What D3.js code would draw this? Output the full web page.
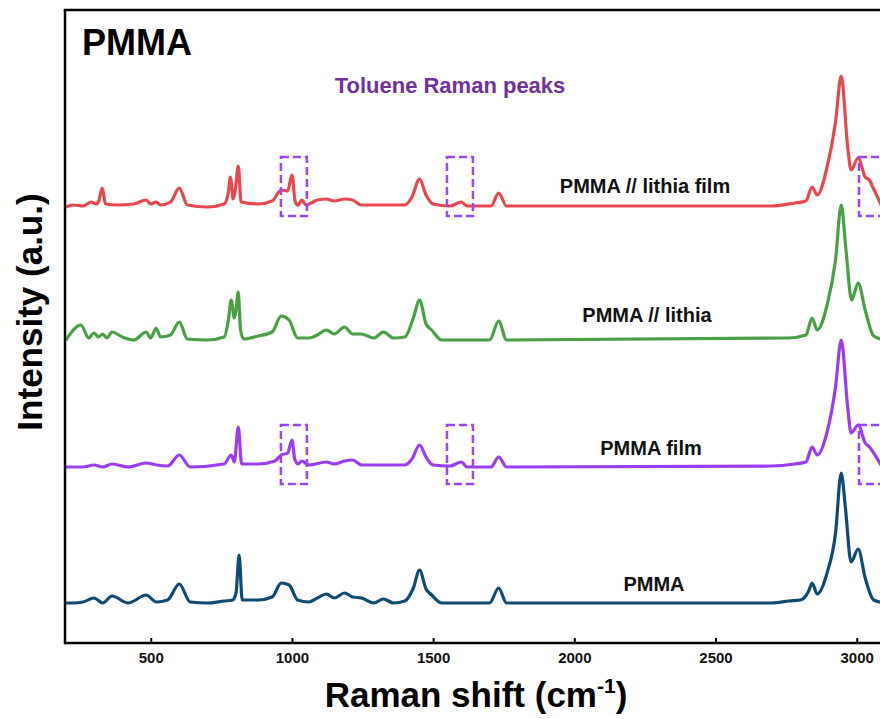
<!DOCTYPE html>
<html>
<head>
<meta charset="utf-8">
<script src="https://cdn.jsdelivr.net/npm/d3@7"></script>
<style>
  body { margin: 0; background: #fff; }
  svg { display: block; font-family: Arial, "Liberation Sans", sans-serif; }
</style>
</head>
<body>
<script>
// ---- data (Raman shift in cm-1, intensity in a.u. above each baseline)
var seriesNames = ["PMMA", "PMMA film", "PMMA // lithia", "PMMA // lithia film"];
var seriesColors = ["#0f4a70", "#9b3cf2", "#47a044", "#e8474f"];
var seriesOffsets = [40, 176, 303, 436];

var pmma = [
  [200,0],[225,0],[260,1],[299,5],[330,0],[363,7],[420,0],[484,8],[520,1],[560,3],[601,19],[640,1],
  [700,0],[760,2],[790,3],[802,10],[813,48],[824,3],[880,3],[930,6],[962,20],[990,18],[1020,3],
  [1060,1],[1090,5],[1122,9],[1150,5],[1186,10],[1215,6],[1246,5],[1290,0],[1324,4],[1360,0],
  [1400,2],[1430,15],[1452,33],[1475,14],[1495,8],[1530,0],[1700,0],[1732,15],[1760,0],[2700,0],
  [2760,2],[2800,3],[2830,12],[2842,20],[2860,9],[2895,30],[2925,70],[2945,130],[2960,95],
  [2980,41],[3005,54],[3030,25],[3060,3],[3100,0]
];
var pmmaFilm = [
  [200,0],[260,0],[299,2],[330,0],[363,3],[420,0],[484,4],[520,2],[560,1],[601,12],[640,0],
  [760,3],[785,12],[796,5],[810,40],[822,3],[880,3],[940,6],[962,12],[985,14],[1000,27],[1010,8],
  [1022,3],[1035,6],[1060,2],[1122,5],[1150,3],[1186,6],[1215,7],[1246,2],[1400,2],[1425,8],
  [1452,22],[1475,10],[1500,2],[1560,1],[1600,5],[1620,0],[1705,0],[1732,10],[1760,0],[2700,1],
  [2780,3],[2820,5],[2842,20],[2860,12],[2895,35],[2925,80],[2945,127],[2968,60],[2980,34],
  [3005,42],[3030,24],[3045,20],[3060,14],[3090,0]
];
var pmmaLithia = [
  [200,0],[253,15],[280,2],[299,7],[315,3],[330,6],[345,2],[363,8],[400,3],[440,0],[484,8],[500,2],
  [519,12],[535,3],[570,5],[601,18],[630,1],[700,0],[760,3],[775,20],[785,40],[796,22],[802,30],
  [810,48],[818,10],[830,1],[880,4],[930,8],[962,24],[990,20],[1020,2],[1060,2],[1090,5],[1122,10],
  [1150,6],[1186,13],[1215,6],[1246,6],[1290,2],[1324,8],[1360,2],[1400,3],[1430,22],[1452,40],
  [1475,16],[1495,10],[1530,0],[1700,0],[1732,19],[1760,0],[2760,2],[2820,5],[2842,22],[2860,10],
  [2895,35],[2925,80],[2945,135],[2962,90],[2982,40],[3005,57],[3030,30],[3060,4],[3100,0]
];
var pmmaLithiaFilm = [
  [200,0],[225,2],[260,1],[290,5],[306,3],[316,6],[328,19],[340,3],[380,2],[440,3],[484,7],[500,3],
  [519,5],[535,2],[570,5],[601,19],[630,2],[700,0],[760,3],[775,15],[782,30],[792,8],[800,18],
  [810,41],[820,5],[880,3],[930,6],[962,17],[985,16],[1000,32],[1012,5],[1022,2],[1035,7],[1050,2],
  [1090,7],[1122,8],[1150,6],[1186,8],[1215,7],[1246,2],[1400,2],[1425,10],[1452,28],[1475,12],
  [1500,3],[1560,1],[1600,5],[1620,1],[1705,1],[1732,14],[1760,1],[2700,1],[2780,4],[2820,6],
  [2842,20],[2860,12],[2895,40],[2925,85],[2945,131],[2968,60],[2980,37],[3005,49],[3030,30],
  [3045,27],[3060,18],[3090,0]
];
var spectra = [pmma, pmmaFilm, pmmaLithia, pmmaLithiaFilm];

// toluene boxes: [shift from, shift to, intensity from, intensity to]
var tolueneBoxes = [
  [961,1053,427,486],[1549,1641,427,486],[3008,3100,427,486],
  [961,1053,159,218],[1549,1641,159,218],[3008,3100,159,218]
];
var xTicks = [500, 1000, 1500, 2000, 2500, 3000];

window.onload = function(){
  var width = 880, height = 719;
  var m = {left: 65, top: 10, bottom: 643};

  var svg = d3.select(document.body).append('svg')
      .attr('width', width).attr('height', height);

  var x = d3.scaleLinear().domain([200, 3100]).range([66, 66 + 2900 * 0.2824]);
  var y = d3.scaleLinear().domain([0, 633]).range([m.bottom, m.top]);

  svg.append('clipPath').attr('id', 'plot')
    .append('rect').attr('x', m.left).attr('y', m.top)
    .attr('width', width - m.left).attr('height', m.bottom - m.top);

  var plot = svg.append('g').attr('clip-path', 'url(#plot)');

  // spectra
  spectra.forEach(function(s, i){
    var line = d3.line()
      .x(function(d){ return x(d[0]); })
      .y(function(d){ return y(d[1] + seriesOffsets[i]); })
      .curve(d3.curveMonotoneX);
    plot.append('path').datum(s)
      .attr('d', line)
      .attr('fill', 'none')
      .attr('stroke', seriesColors[i])
      .attr('stroke-width', 3.2)
      .attr('stroke-linejoin', 'round');
  });

  // dashed toluene boxes
  plot.selectAll('rect.box').data(tolueneBoxes).enter()
    .append('rect').attr('class', 'box')
    .attr('x', function(d){ return x(d[0]); })
    .attr('y', function(d){ return y(d[3]); })
    .attr('width', function(d){ return x(d[1]) - x(d[0]); })
    .attr('height', function(d){ return y(d[2]) - y(d[3]); })
    .attr('fill', 'none')
    .attr('stroke', '#9b45f5')
    .attr('stroke-width', 2.5)
    .attr('stroke-dasharray', '8,4');

  // axes frame
  var xAxis = d3.axisBottom(x).tickValues(xTicks).tickFormat(d3.format('d'))
    .tickSizeInner(-5).tickSizeOuter(0).tickPadding(9);
  var gx = svg.append('g').attr('transform', 'translate(0,' + m.bottom + ')').call(xAxis);
  gx.attr('font-size', 15).attr('font-family', 'Arial, "Liberation Sans", sans-serif');
  gx.select('.domain').attr('stroke', '#000').attr('stroke-width', 2.5)
    .attr('d', 'M' + m.left + ',0H' + width);
  gx.selectAll('.tick line').attr('stroke', '#000').attr('stroke-width', 2);
  gx.selectAll('.tick text').attr('font-weight', 'bold').attr('fill', '#111');

  svg.append('line').attr('x1', m.left).attr('x2', m.left)
    .attr('y1', m.top).attr('y2', m.bottom + 1.25)
    .attr('stroke', '#000').attr('stroke-width', 2.5);
  svg.append('line').attr('x1', m.left - 1.25).attr('x2', width)
    .attr('y1', m.top).attr('y2', m.top)
    .attr('stroke', '#000').attr('stroke-width', 2.5);

  // labels
  svg.append('text').attr('x', 82).attr('y', 55)
    .attr('font-size', 36).attr('font-weight', 'bold').text('PMMA');

  svg.append('text').attr('x', 450).attr('y', 93).attr('text-anchor', 'middle')
    .attr('font-size', 22).attr('font-weight', 'bold').attr('fill', '#7030a0')
    .text('Toluene Raman peaks');

  var labelPos = [[654, 591], [651, 455], [647, 322], [645, 193]];
  seriesNames.forEach(function(n, i){
    svg.append('text').attr('x', labelPos[i][0]).attr('y', labelPos[i][1])
      .attr('text-anchor', 'middle').attr('font-size', 20).attr('font-weight', 'bold')
      .attr('fill', '#111').text(n);
  });

  var xt = svg.append('text').attr('x', 476).attr('y', 707).attr('text-anchor', 'middle')
    .attr('font-size', 35).attr('font-weight', 'bold');
  xt.append('tspan').text('Raman shift (cm');
  xt.append('tspan').attr('font-size', 21).attr('dy', -14).text('-1');
  xt.append('tspan').attr('dy', 14).text(')');

  svg.append('text').attr('transform', 'translate(42,312) rotate(-90)')
    .attr('text-anchor', 'middle').attr('font-size', 35).attr('font-weight', 'bold')
    .text('Intensity (a.u.)');
};
</script>
</body>
</html>
